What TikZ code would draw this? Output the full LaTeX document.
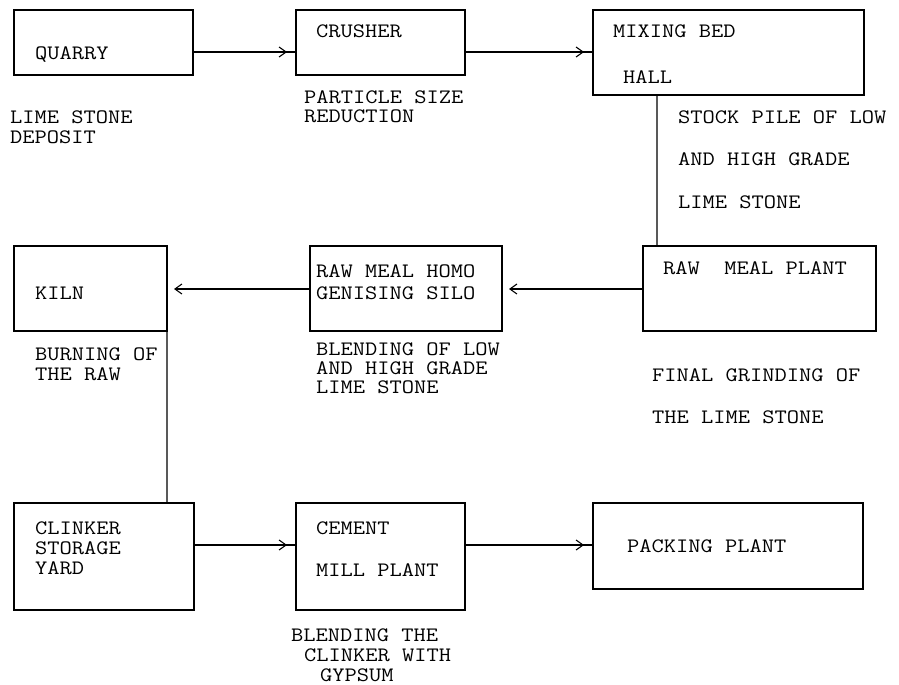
\documentclass[tikz,border=0pt]{standalone}
\usepackage{fontspec}
\newfontfamily\cour[FakeStretch=1.16]{Latin Modern Mono}
\usetikzlibrary{arrows.meta,decorations.markings}
\tikzset{
  box/.style={draw, line width=1.1bp, inner sep=0pt, outer sep=0pt, anchor=north west},
  txt/.style={anchor=base west, inner sep=0pt, font=\cour\fontsize{20.5bp}{21bp}\selectfont},
  conn/.style={line width=1.1bp},
  fwd/.style={conn, decoration={markings, mark=at position -9bp with {\arrow{Straight Barb[length=7bp,width=10bp,line width=1.1bp]}}}, postaction=decorate},
  back/.style={conn, -{Straight Barb[length=7bp,width=10bp,line width=1.1bp]}, shorten >=7bp}
}
\begin{document}
\begin{tikzpicture}[x=1bp,y=-1bp]
\useasboundingbox (0,0) rectangle (899,685);
% boxes
\node[box, minimum width=179bp, minimum height=65bp] (quarry) at (14,10) {};
\node[box, minimum width=169bp, minimum height=65bp] (crusher) at (296,10) {};
\node[box, minimum width=271bp, minimum height=85bp] (mixing) at (593,10) {};
\node[box, minimum width=233bp, minimum height=85bp] (rawplant) at (643,246) {};
\node[box, minimum width=192bp, minimum height=85bp] (homo) at (310,246) {};
\node[box, minimum width=153bp, minimum height=85bp] (kiln) at (14,246) {};
\node[box, minimum width=180bp, minimum height=107bp] (clinker) at (14,503) {};
\node[box, minimum width=169bp, minimum height=107bp] (cement) at (296,503) {};
\node[box, minimum width=270bp, minimum height=86bp] (packing) at (593,503) {};
% texts
\node[txt] (t1) at (35,60) {QUARRY};
\node[txt] (t2) at (10,124) {LIME STONE};
\node[txt] (t3) at (10,144) {DEPOSIT};
\node[txt] (t4) at (316,38) {CRUSHER};
\node[txt] (t5) at (304,104) {PARTICLE SIZE};
\node[txt] (t6) at (304,123) {REDUCTION};
\node[txt] (t7) at (613,38) {MIXING BED};
\node[txt] (t8) at (623,84) {HALL};
\node[txt] (t9) at (678,124) {STOCK PILE OF LOW};
\node[txt] (t10) at (678,166) {AND HIGH GRADE};
\node[txt] (t11) at (678,208) {LIME STONE};
\node[txt] (t12) at (663,274) {RAW\ \ MEAL PLANT};
\node[txt] (t13) at (652,381) {FINAL GRINDING OF};
\node[txt] (t14) at (652,423) {THE LIME STONE};
\node[txt] (t15) at (316,277) {RAW MEAL HOMO};
\node[txt] (t16) at (316,299) {GENISING SILO};
\node[txt] (t17) at (316,355) {BLENDING OF LOW};
\node[txt] (t18) at (316,374) {AND HIGH GRADE};
\node[txt] (t19) at (316,393) {LIME STONE};
\node[txt] (t20) at (35,299) {KILN};
\node[txt] (t21) at (35,360) {BURNING OF};
\node[txt] (t22) at (35,380) {THE RAW};
\node[txt] (t23) at (35,534) {CLINKER};
\node[txt] (t24) at (35,554) {STORAGE};
\node[txt] (t25) at (35,574) {YARD};
\node[txt] (t26) at (316,534) {CEMENT};
\node[txt] (t27) at (316,576) {MILL PLANT};
\node[txt] (t28) at (291,641) {BLENDING THE};
\node[txt] (t29) at (304,661) {CLINKER WITH};
\node[txt] (t30) at (320,681) {GYPSUM};
\node[txt] (t31) at (627,552) {PACKING PLANT};
% connectors
\draw[fwd] ([yshift=-42bp]quarry.north east) -- ([yshift=-42bp]crusher.north west);
\draw[fwd] ([yshift=-42bp]crusher.north east) -- ([yshift=-42bp]mixing.north west);
\draw[conn] ([xshift=64bp]mixing.south west) -- ([xshift=14bp]rawplant.north west);
\draw[back] ([yshift=-43bp]rawplant.north west) -- ([yshift=-43bp]homo.north east);
\draw[back] ([yshift=-43bp]homo.north west) -- ([yshift=-43bp]kiln.north east);
\draw[conn] (kiln.south east) -- ([xshift=153bp]clinker.north west);
\draw[fwd] ([yshift=-42bp]clinker.north east) -- ([yshift=-42bp]cement.north west);
\draw[fwd] ([yshift=-42bp]cement.north east) -- ([yshift=-42bp]packing.north west);
\end{tikzpicture}
\end{document}
